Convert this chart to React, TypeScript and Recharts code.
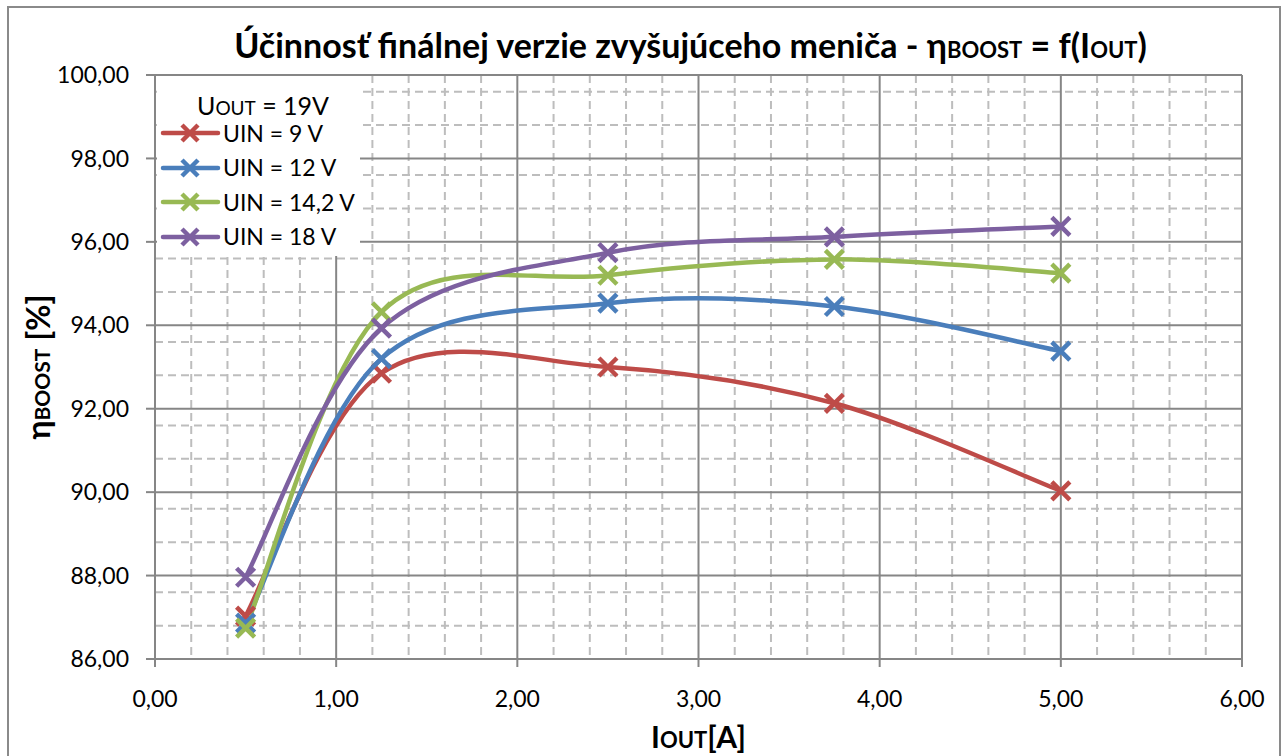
import React from "react";
import {
  LineChart,
  Line,
  XAxis,
  YAxis,
  CartesianGrid,
  Legend,
  Label,
} from "recharts";

// I_OUT [A]
const currentA = [0.5, 1.25, 2.5, 3.75, 5.0];

// efficiency [%] per input voltage
const effUin9 = [87.03, 92.85, 93.0, 92.13, 90.03];
const effUin12 = [86.86, 93.2, 94.53, 94.45, 93.38];
const effUin142 = [86.74, 94.32, 95.2, 95.58, 95.25];
const effUin18 = [87.96, 93.93, 95.74, 96.12, 96.37];

const seriesKeys = ["u9", "u12", "u142", "u18"];
const seriesNames = ["UIN = 9 V", "UIN = 12 V", "UIN = 14,2 V", "UIN = 18 V"];
const seriesColors = ["#BE4B48", "#4A7EBB", "#98B954", "#7D60A0"];

const xTicks = [0, 1, 2, 3, 4, 5, 6];
const yTicks = [86, 88, 90, 92, 94, 96, 98, 100];

const FONT = "Lato, 'Open Sans', sans-serif";
const AXIS_GRAY = "#868686";
const MINOR_GRAY = "#bdbdbd";

const data = currentA.map((x, i) => ({
  x,
  u9: effUin9[i],
  u12: effUin12[i],
  u142: effUin142[i],
  u18: effUin18[i],
}));

// minor grid: 5 steps per major interval
function minorValues(ticks: number[]) {
  const out: number[] = [];
  for (let i = 0; i < ticks.length - 1; i++) {
    const step = (ticks[i + 1] - ticks[i]) / 5;
    for (let k = 1; k < 5; k++) out.push(ticks[i] + step * k);
  }
  return out;
}
const xMinor = minorValues(xTicks);
const yMinor = minorValues(yTicks);

const fmt = (v: number) => v.toFixed(2).replace(".", ",");

// Excel-like smoothed line (Catmull-Rom as cubic bezier)
function excelSmooth(context: any) {
  let pts: number[][] = [];
  return {
    areaStart() {},
    areaEnd() {},
    lineStart() {
      pts = [];
    },
    point(x: number, y: number) {
      pts.push([+x, +y]);
    },
    lineEnd() {
      const n = pts.length;
      if (!n) return;
      context.moveTo(pts[0][0], pts[0][1]);
      for (let i = 0; i < n - 1; i++) {
        const p0 = pts[Math.max(i - 1, 0)];
        const p1 = pts[i];
        const p2 = pts[i + 1];
        const p3 = pts[Math.min(i + 2, n - 1)];
        context.bezierCurveTo(
          p1[0] + (p2[0] - p0[0]) / 6,
          p1[1] + (p2[1] - p0[1]) / 6,
          p2[0] - (p3[0] - p1[0]) / 6,
          p2[1] - (p3[1] - p1[1]) / 6,
          p2[0],
          p2[1]
        );
      }
    },
  };
}

function crossPath(cx: number, cy: number, r: number) {
  return `M${cx - r},${cy - r}L${cx + r},${cy + r}M${cx - r},${cy + r}L${cx + r},${cy - r}`;
}

const renderCross = (color: string) => (props: any) => {
  const { cx, cy, index } = props;
  if (cx == null || cy == null) return <g key={`n-${index}`} />;
  return (
    <path
      key={`c-${index}`}
      d={crossPath(cx, cy, 9)}
      stroke={color}
      strokeWidth={4.5}
      fill="none"
    />
  );
};

function LegendBox(props: any) {
  const payload = [...(props.payload || [])].sort(
    (a: any, b: any) => seriesNames.indexOf(a.value) - seriesNames.indexOf(b.value)
  );
  return (
    <div
      style={{
        width: 203,
        height: 180,
        background: "#fff",
        fontFamily: FONT,
        color: "#000",
        lineHeight: 1,
      }}
    >
      <div style={{ fontSize: 25, paddingLeft: 40, paddingTop: 17, height: 23 }}>
        U<span style={{ fontSize: 19 }}>OUT</span> = 19V
      </div>
      {payload.map((entry: any) => (
        <div
          key={entry.value}
          style={{ display: "flex", alignItems: "center", height: 34.5, fontSize: 23 }}
        >
          <svg width={66} height={24} style={{ flex: "none" }}>
            <line x1={6} y1={12} x2={61} y2={12} stroke={entry.color} strokeWidth={4.5} strokeLinecap="round" />
            <path d={crossPath(33, 12, 8)} stroke={entry.color} strokeWidth={4.5} />
          </svg>
          <span>{entry.value}</span>
        </div>
      ))}
    </div>
  );
}

export default function App() {
  return (
    <div
      style={{
        position: "absolute",
        left: 0,
        top: 0,
        width: 1285,
        height: 756,
        overflow: "hidden",
        background: "#fff",
      }}
    >
      <div
        style={{
          position: "absolute",
          left: 7,
          top: 6,
          width: 1270,
          height: 800,
          border: "2px solid #8a8a8a",
        }}
      />
      <div
        style={{
          position: "absolute",
          left: 48,
          width: 1285,
          top: 25,
          textAlign: "center",
          fontFamily: FONT,
          fontWeight: 700,
          fontSize: 34,
          lineHeight: 1.2,
          color: "#000",
          whiteSpace: "nowrap",
        }}
      >
        Účinnosť finálnej verzie zvyšujúceho meniča - η
        <span style={{ fontSize: 22 }}>BOOST</span> = f(I
        <span style={{ fontSize: 22 }}>OUT</span>)
      </div>
      <div style={{ position: "absolute", left: 0, top: 0 }}>
        <LineChart
          width={1285}
          height={756}
          data={data}
          margin={{ top: 75, right: 43, bottom: 37, left: 0 }}
        >
          <CartesianGrid
            horizontalValues={yMinor}
            verticalValues={xMinor}
            stroke={MINOR_GRAY}
            strokeWidth={2}
            strokeDasharray="8 5"
          />
          <CartesianGrid stroke={AXIS_GRAY} strokeWidth={2} />
          <XAxis
            dataKey="x"
            type="number"
            domain={[0, 6]}
            ticks={xTicks}
            tickFormatter={fmt}
            height={60}
            stroke={AXIS_GRAY}
            strokeWidth={2}
            tickSize={8}
            tickMargin={24}
            tick={{ fill: "#000", fontSize: 23, fontFamily: FONT }}
          >
            <Label
              content={(p: any) => (
                <text
                  x={p.viewBox.x + p.viewBox.width / 2}
                  y={p.viewBox.y + 89}
                  textAnchor="middle"
                  fontFamily={FONT}
                  fontWeight={700}
                  fontSize={30}
                  fill="#000"
                >
                  I<tspan fontSize={22}>OUT</tspan>[A]
                </text>
              )}
            />
          </XAxis>
          <YAxis
            type="number"
            domain={[86, 100]}
            ticks={yTicks}
            tickFormatter={fmt}
            width={155}
            stroke={AXIS_GRAY}
            strokeWidth={2}
            tickSize={9}
            tickMargin={17}
            tick={{ fill: "#000", fontSize: 23, fontFamily: FONT }}
          >
            <Label
              content={(p: any) => {
                const cx = 50;
                const cy = p.viewBox.y + p.viewBox.height / 2;
                return (
                  <text
                    x={cx}
                    y={cy}
                    transform={`rotate(-90 ${cx} ${cy})`}
                    textAnchor="middle"
                    fontFamily={FONT}
                    fontWeight={700}
                    fontSize={32}
                    fill="#000"
                  >
                    η<tspan fontSize={21}>BOOST</tspan> [%]
                  </text>
                );
              }}
            />
          </YAxis>
          <Legend
            layout="vertical"
            align="center"
            verticalAlign="middle"
            content={<LegendBox />}
            wrapperStyle={{ left: 157, top: 76, width: 203, height: 180 }}
          />
          {seriesKeys.map((k, i) => (
            <Line
              key={k}
              dataKey={k}
              name={seriesNames[i]}
              type={excelSmooth as any}
              stroke={seriesColors[i]}
              strokeWidth={4.5}
              dot={renderCross(seriesColors[i])}
              activeDot={false}
              isAnimationActive={false}
            />
          ))}
        </LineChart>
      </div>
    </div>
  );
}
